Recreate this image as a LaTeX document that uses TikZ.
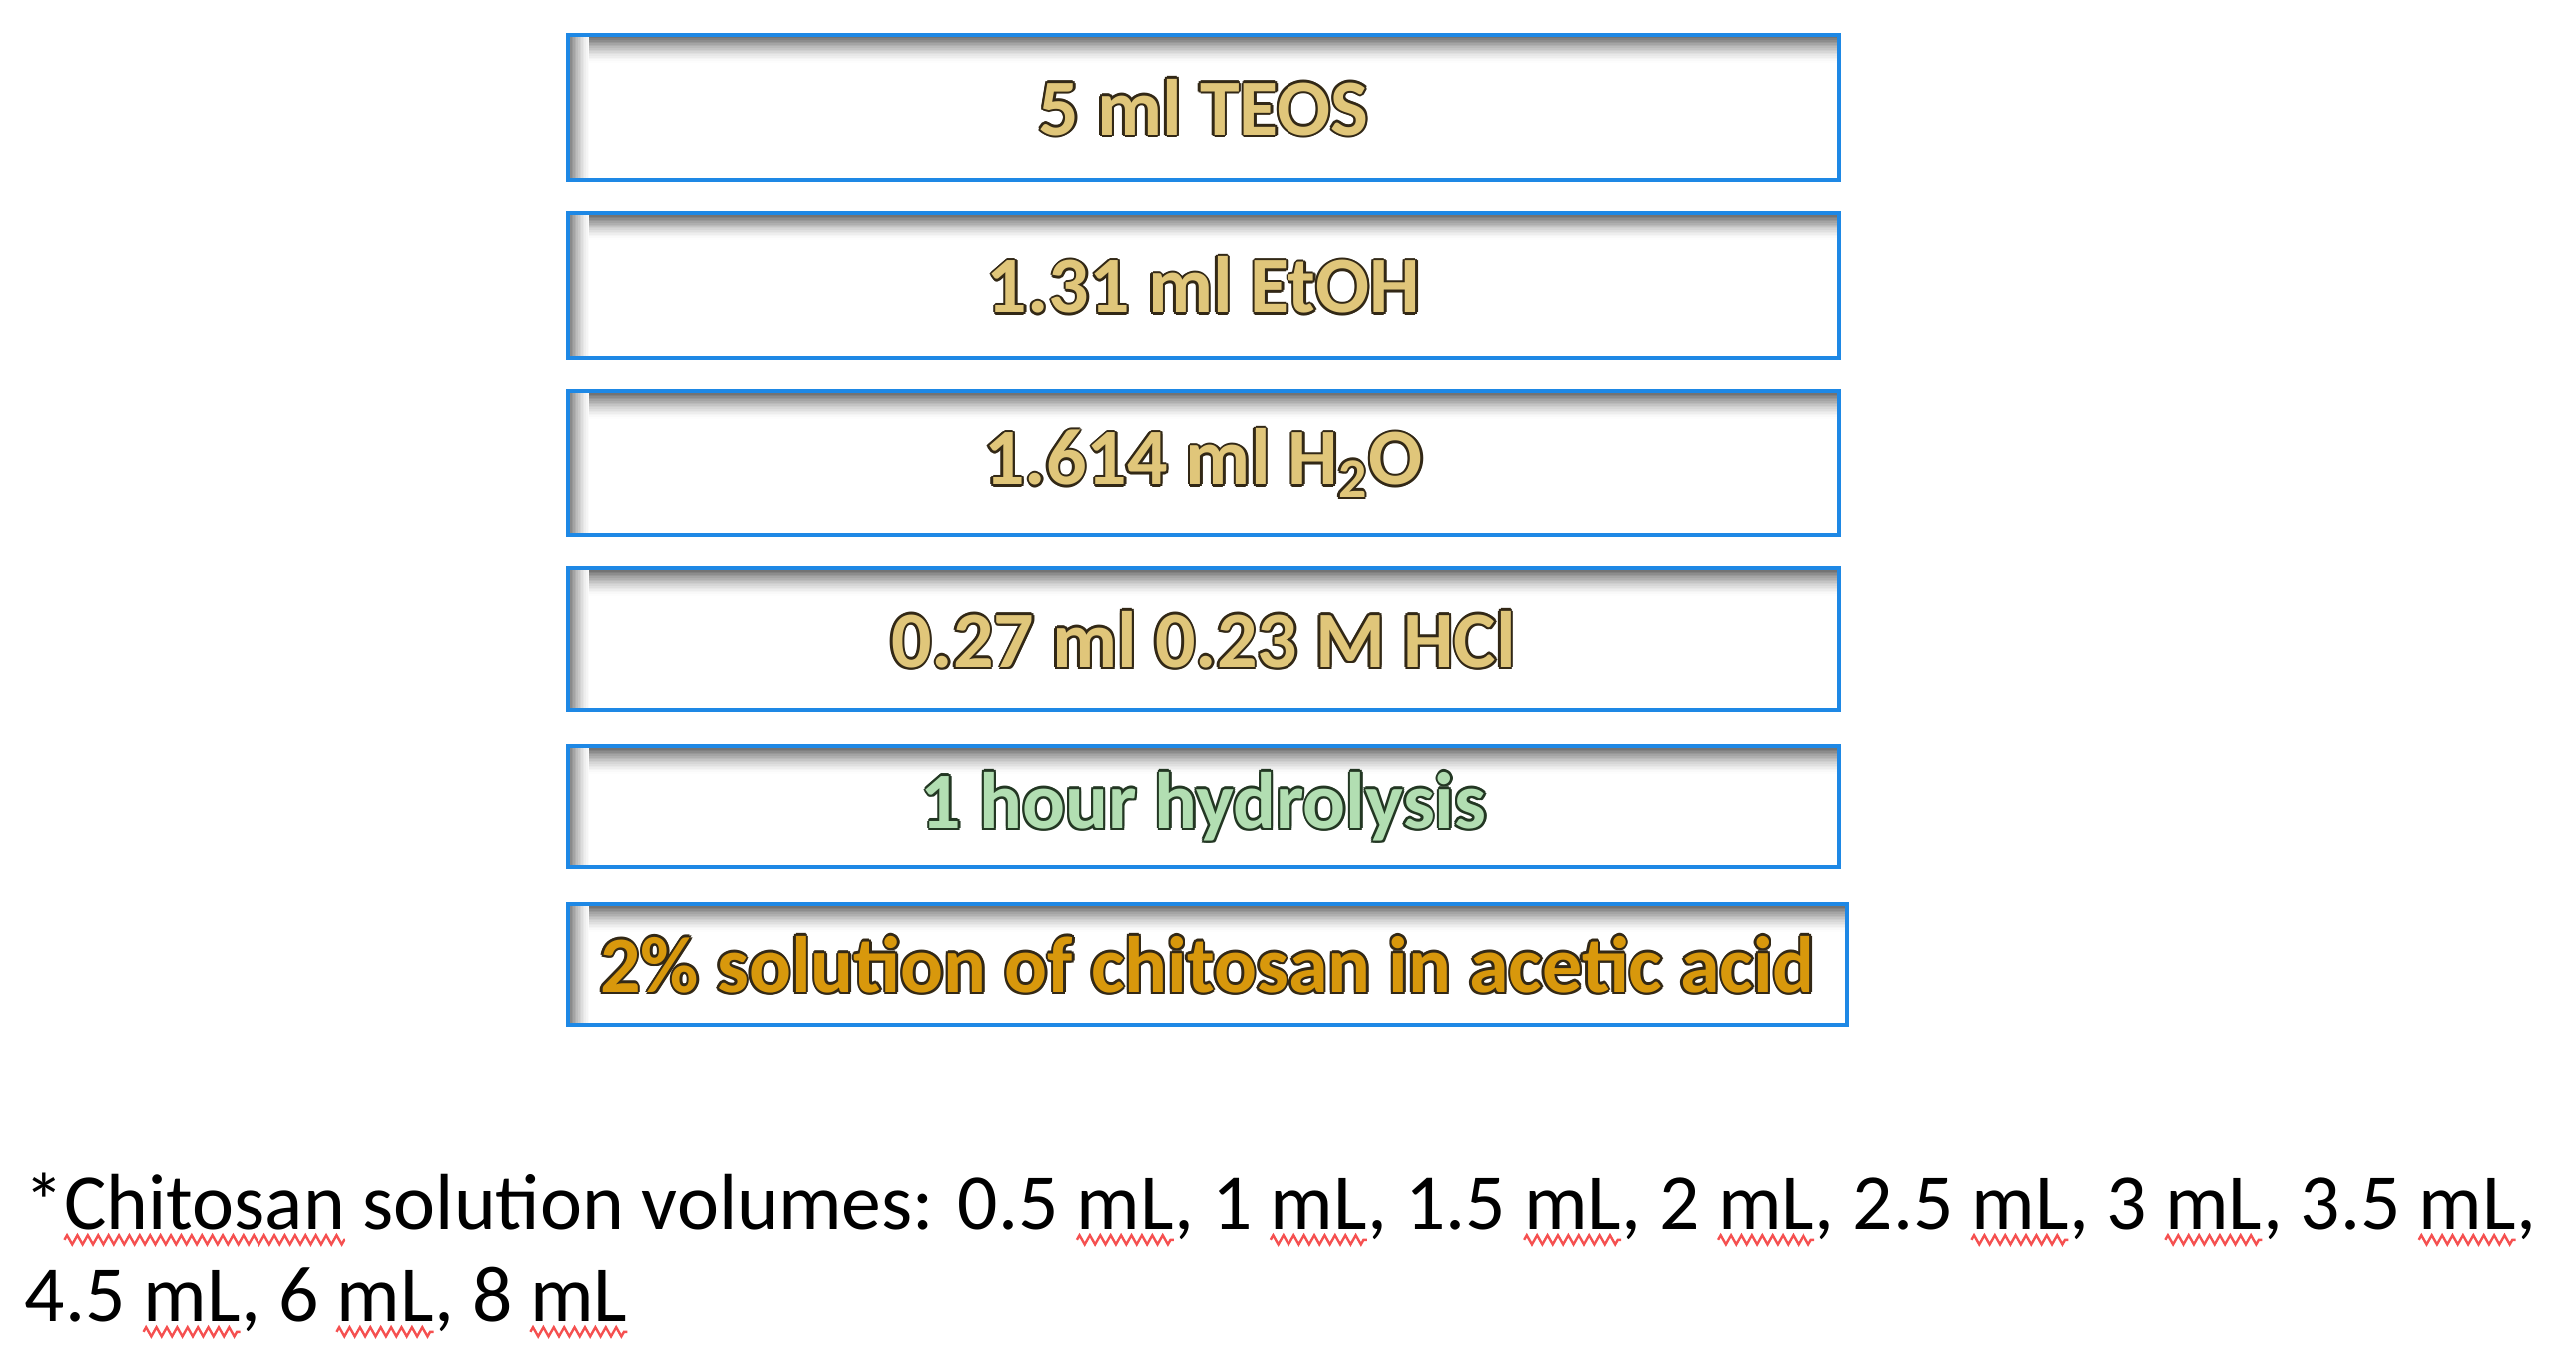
\documentclass[tikz,border=0pt]{standalone}
\usepackage{fontspec}
\setmainfont{Carlito}
\usetikzlibrary{decorations.pathmorphing}
\definecolor{boxblue}{RGB}{30,136,229}
\definecolor{goldfill}{RGB}{224,198,122}
\definecolor{goldline}{RGB}{50,40,22}
\definecolor{orangefill}{RGB}{216,152,12}
\definecolor{greenfill}{RGB}{178,222,178}
\definecolor{greenline}{RGB}{35,55,35}
\definecolor{squigred}{RGB}{245,80,80}
\newdimen\sqwidth
\newcommand\spellerr[1]{\setbox0\hbox{#1}\sqwidth=\wd0\rlap{\tikz[overlay,x=1pt,y=1pt]\draw[squigred, line width=0.6pt, decorate, decoration={zigzag, segment length=2.6pt, amplitude=1.15pt}] (0pt,-2.7pt) -- (\sqwidth,-2.7pt);}#1}
\newcommand\outl[3]{{%
  \def\oo##1##2{\rlap{\kern##1\raise##2\hbox{\color{#1}#3}}}%
  \oo{0.6pt}{0pt}\oo{-0.6pt}{0pt}\oo{0pt}{0.6pt}\oo{0pt}{-0.6pt}%
  \oo{0.43pt}{0.43pt}\oo{-0.43pt}{0.43pt}\oo{0.43pt}{-0.43pt}\oo{-0.43pt}{-0.43pt}%
  {\color{#2}#3}}}
\tikzset{
  stepbox/.style={draw=boxblue, line width=1pt, fill=white, inner sep=0pt,
    font=\fontsize{20}{24}\selectfont\bfseries},
  foot/.style={inner sep=0pt, font=\fontsize{19.9}{24}\selectfont, text=black}
}
\begin{document}
\begin{tikzpicture}[x=0.25pt, y=-0.25pt]
\useasboundingbox (0,0) rectangle (2581,1364);
\node[stepbox, minimum width=318.5pt, minimum height=36.3pt] (b1) at (1206,107.4) {\phantom{5 ml TEOS}};
\node[stepbox, minimum width=318.5pt, minimum height=36.5pt] (b2) at (1206,286) {\phantom{1.31 ml EtOH}};
\node[stepbox, minimum width=318.5pt, minimum height=36pt] (b3) at (1206,464) {\phantom{1.614 ml H\textsubscript{2}O}};
\node[stepbox, minimum width=318.5pt, minimum height=35.75pt] (b4) at (1206,640.5) {\phantom{0.27 ml 0.23 M HCl}};
\node[stepbox, minimum width=318.5pt, minimum height=30.25pt] (b5) at (1206,808.5) {\phantom{1 hour hydrolysis}};
\node[stepbox, minimum width=320.5pt, minimum height=30.25pt] (b6) at (1210,966.5) {\phantom{2\% solution of chitosan in acetic acid}};
% inner shadows along the top and left sides of each box
\foreach \bx in {b1,b2,b3,b4,b5,b6}{
  \foreach \i in {0,...,15}{
    \pgfmathsetmacro\shadeamt{55*(1-\i/16)^1.5}
    \fill[black!\shadeamt] ([xshift=1pt, yshift=-1pt-\i*0.4pt]\bx.north west) rectangle ([xshift=-1pt, yshift=-1.45pt-\i*0.4pt]\bx.north east);
  }
  \foreach \i in {0,...,11}{
    \pgfmathsetmacro\shadeamt{46*(1-\i/12)^1.4}
    \fill[black!\shadeamt] ([xshift=1pt+\i*0.4pt, yshift=-1pt]\bx.north west) rectangle ([xshift=1.45pt+\i*0.4pt, yshift=1pt]\bx.south west);
  }
}
% box texts
\node[font=\fontsize{20}{24}\selectfont\bfseries, inner sep=0pt] (t1) at (b1.center) {\outl{goldline}{goldfill}{5 ml TEOS}};
\node[font=\fontsize{20}{24}\selectfont\bfseries, inner sep=0pt] (t2) at (b2.center) {\outl{goldline}{goldfill}{1.31 ml EtOH}};
\node[font=\fontsize{20}{24}\selectfont\bfseries, inner sep=0pt] (t3) at (b3.center) {\outl{goldline}{goldfill}{1.614 ml H\textsubscript{2}O}};
\node[font=\fontsize{20}{24}\selectfont\bfseries, inner sep=0pt] (t4) at (b4.center) {\outl{goldline}{goldfill}{0.27 ml 0.23 M HCl}};
\node[font=\fontsize{20}{24}\selectfont\bfseries, inner sep=0pt] (t5) at (b5.center) {\outl{greenline}{greenfill}{1 hour hydrolysis}};
\node[font=\fontsize{20}{24}\selectfont\bfseries, inner sep=0pt] (t6) at (b6.center) {\outl{goldline}{orangefill}{2\% solution of chitosan in acetic acid}};
\node[foot, anchor=base west] (f1) at (24,1232) {*\spellerr{Chitosan} solution volumes: 0.5 \spellerr{mL}, 1 \spellerr{mL}, 1.5 \spellerr{mL}, 2 \spellerr{mL}, 2.5 \spellerr{mL}, 3 \spellerr{mL}, 3.5 \spellerr{mL},};
\node[foot, anchor=base west] (f2) at (24,1324) {4.5 \spellerr{mL}, 6 \spellerr{mL}, 8 \spellerr{mL}};
\end{tikzpicture}
\end{document}
